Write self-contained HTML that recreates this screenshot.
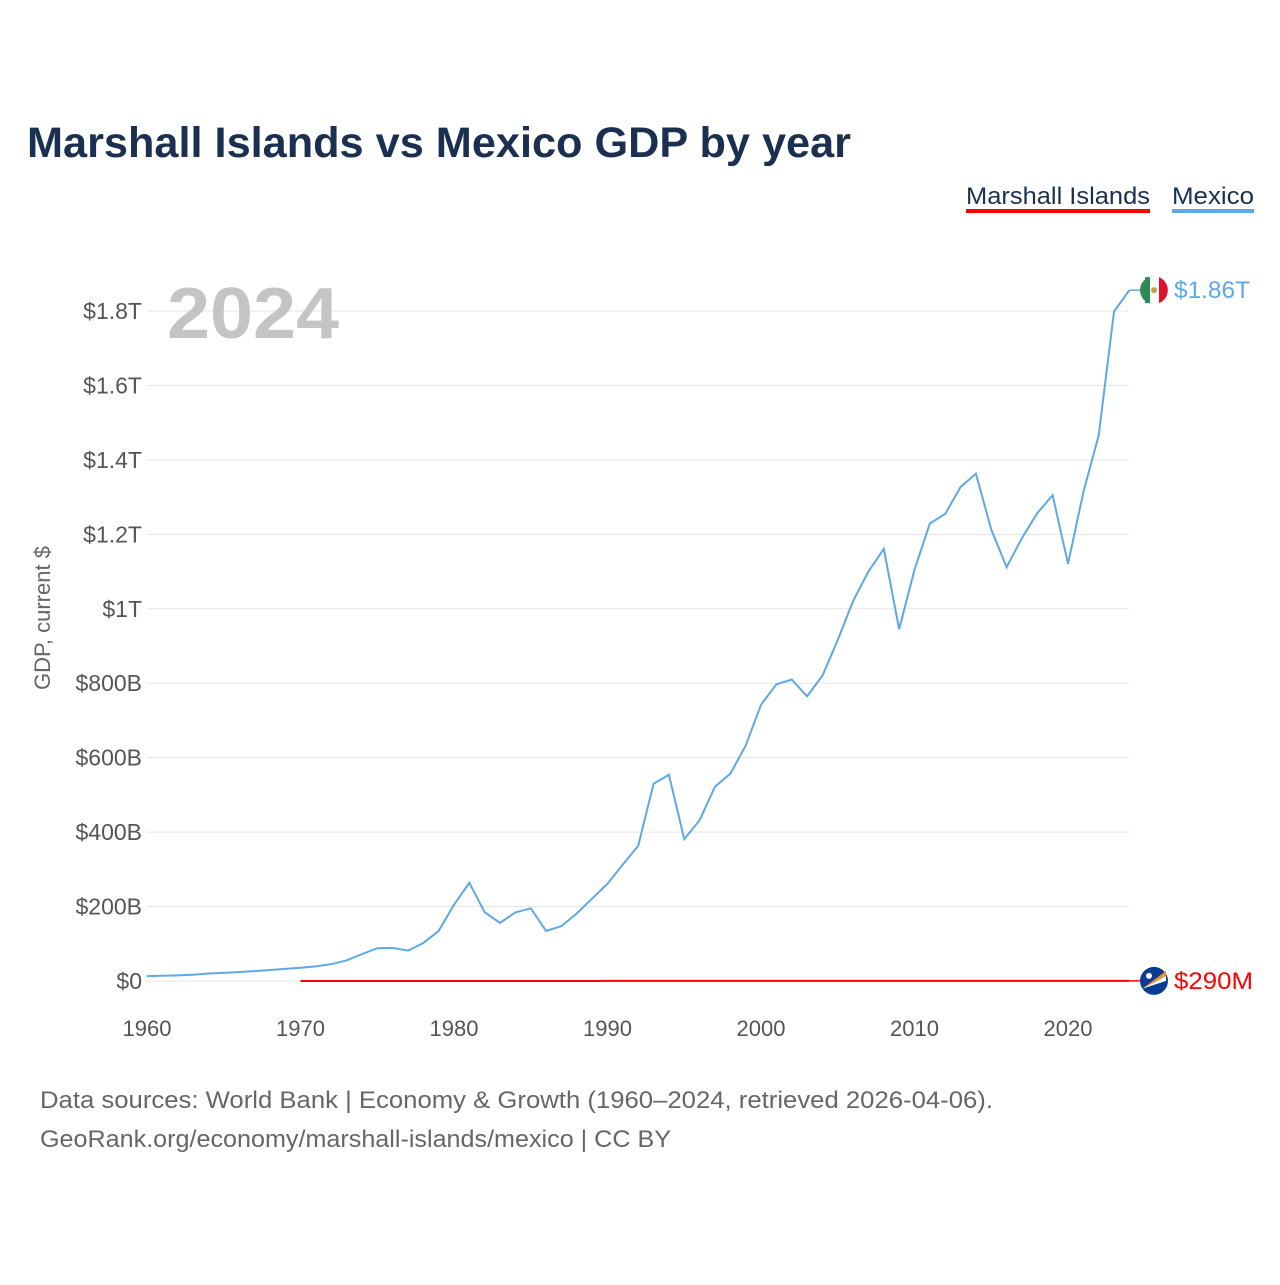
<!DOCTYPE html>
<html><head><meta charset="utf-8"><style>
body{margin:0;background:#fff;font-family:"Liberation Sans",sans-serif}
svg text{font-family:"Liberation Sans",sans-serif}
</style></head><body>
<svg width="1280" height="1280" viewBox="0 0 1280 1280">
<rect width="1280" height="1280" fill="#fff"/>
<text x="27" y="157" font-size="43" font-weight="bold" fill="#1b3050" textLength="824" lengthAdjust="spacingAndGlyphs">Marshall Islands vs Mexico GDP by year</text>
<g>
<text x="966" y="204" font-size="24" fill="#1b3050" textLength="184" lengthAdjust="spacingAndGlyphs">Marshall Islands</text>
<rect x="966" y="209" width="184" height="4" fill="#ff0000"/></g>
<g>
<text x="1172" y="204" font-size="24" fill="#1b3050" textLength="82" lengthAdjust="spacingAndGlyphs">Mexico</text>
<rect x="1172" y="209" width="82" height="4" fill="#5fa8e8"/></g>
<g id="grid"></g>
<text x="167" y="338" font-size="72" font-weight="bold" fill="#c4c4c4" textLength="172" lengthAdjust="spacingAndGlyphs">2024</text>
<text transform="translate(50,618) rotate(-90)" text-anchor="middle" font-size="22" fill="#666">GDP, current $</text>
<g id="series"></g>
<text x="40" y="1108" font-size="24" fill="#666" textLength="953" lengthAdjust="spacingAndGlyphs">Data sources: World Bank | Economy &amp; Growth (1960–2024, retrieved 2026-04-06).</text>
<text x="40" y="1147" font-size="24" fill="#666" textLength="631" lengthAdjust="spacingAndGlyphs">GeoRank.org/economy/marshall-islands/mexico | CC BY</text>
</svg>
<script>
const years=[];for(let y=1960;y<=2024;y++)years.push(y);
const mexico=[13,14.2,15.2,16.9,20.1,21.8,24.3,26.6,29.4,32.5,35.5,39.2,45.2,55.3,72.2,88,89,81.7,102,134.5,205,263.9,184.6,156.2,184.3,195.2,134.5,147.5,181.6,221.4,261.3,313.1,363.2,530,554,381,432,522,557,632,742,797,810,765,820,916,1021,1100,1161,945,1105,1229,1255,1327,1363,1213,1112,1190,1257,1305,1121,1313,1466,1799,1856];
const marshallYears=[];for(let y=1970;y<=2024;y++)marshallYears.push(y);
const marshall=[0.03,0.03,0.04,0.04,0.05,0.05,0.06,0.06,0.07,0.07,0.08,0.08,0.09,0.1,0.11,0.12,0.13,0.14,0.15,0.16,0.17,0.18,0.19,0.2,0.22,0.23,0.22,0.2,0.19,0.18,0.18,0.18,0.19,0.19,0.19,0.19,0.19,0.2,0.2,0.2,0.2,0.21,0.21,0.22,0.22,0.22,0.22,0.23,0.23,0.24,0.24,0.25,0.26,0.28,0.29];
const yTicks=[0,200,400,600,800,1000,1200,1400,1600,1800];
const yTickLabels=["$0","$200B","$400B","$600B","$800B","$1T","$1.2T","$1.4T","$1.6T","$1.8T"];
const xTicks=[1960,1970,1980,1990,2000,2010,2020];
const NS="http://www.w3.org/2000/svg";
const x=v=>147+(v-1960)*(1068-147)/60;
const y=v=>981-v*(981-311)/1800;
function mk(t,a,p){const e=document.createElementNS(NS,t);for(const k in a)e.setAttribute(k,a[k]);p.appendChild(e);return e;}
const g=document.getElementById('grid');
yTicks.forEach((t,i)=>{
 const l=mk('line',{x1:147,x2:1129,y1:y(t),y2:y(t),stroke:'#e6e6e6','stroke-width':1},g);
 
 
 const tx=mk('text',{x:142,y:y(t)+8,'text-anchor':'end','font-size':23,fill:'#555'},g);
 tx.textContent=yTickLabels[i];
 
 
});
xTicks.forEach(t=>{
 const tx=mk('text',{x:x(t),y:1036,'text-anchor':'middle','font-size':22,fill:'#555'},g);
 tx.textContent=t;
 
 
});
const s=document.getElementById('series');
const mx=mk('polyline',{points:years.map((yr,i)=>x(yr)+','+y(mexico[i])).join(' '),fill:'none',stroke:'#5fa8e8','stroke-width':2},s);


const mi=mk('polyline',{points:marshallYears.map((yr,i)=>x(yr)+','+y(marshall[i])).join(' '),fill:'none',stroke:'#ff0000','stroke-width':2},s);


const lx=x(2024), ly1=y(mexico[mexico.length-1]), ly2=y(marshall[marshall.length-1]);
mk('line',{x1:lx,x2:1140,y1:ly1,y2:ly1,stroke:'#5fa8e8','stroke-width':1.5},s);
mk('line',{x1:lx,x2:1140,y1:ly2,y2:ly2,stroke:'#ff0000','stroke-width':1.5},s);
const f1=mk('g',{},s);


mk('circle',{cx:1154,cy:ly1,r:14,fill:'#fff'},f1);
mk('path',{d:`M1154 ${ly1-14} A14 14 0 0 0 1154 ${ly1+14} L1149 ${ly1+13} L1149 ${ly1-13}Z`,fill:'#2e8b57'},f1);
mk('rect',{x:1145,y:ly1-13,width:5,height:26,fill:'#2e8b57'},f1);
mk('path',{d:`M1159 ${ly1-13} A14 14 0 0 1 1159 ${ly1+13}Z`,fill:'#e0112b'},f1);
mk('circle',{cx:1154,cy:ly1,r:3,fill:'#c8a040'},f1);
const t1=mk('text',{x:1174,y:ly1+8,'font-size':24,fill:'#5fa8e8',textLength:76,lengthAdjust:'spacingAndGlyphs'},s);
t1.textContent='$1.86T';


const f2=mk('g',{},s);


mk('circle',{cx:1154,cy:ly2,r:14,fill:'#0a3d91'},f2);
mk('path',{d:`M1142 ${ly2+8} L1166 ${ly2-10} L1166 ${ly2-5} Z`,fill:'#f28c28'},f2);
mk('path',{d:`M1142 ${ly2+8} L1166 ${ly2-5} L1166 ${ly2} Z`,fill:'#fff'},f2);
mk('circle',{cx:1149,cy:ly2-5,r:3,fill:'#fff'},f2);
const t2=mk('text',{x:1174,y:ly2+8,'font-size':24,fill:'#ff0000',textLength:79,lengthAdjust:'spacingAndGlyphs'},s);
t2.textContent='$290M';


</script>
</body></html>
